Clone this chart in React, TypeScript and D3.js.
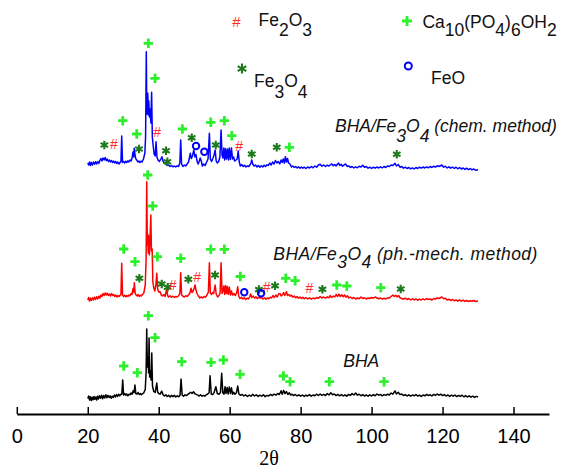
import React, { useEffect, useRef } from "react";
import * as d3 from "d3";

// 2theta ticks on the only visible axis
const xTicks = [0, 20, 40, 60, 80, 100, 120, 140];

// series, stacked with an intensity offset (arb. units)
const seriesNames = ["BHA", "BHA/Fe_{3}O_{4} (ph.-mech. method)", "BHA/Fe_{3}O_{4} (chem. method)"];
const seriesOffsets = [0, 990, 2350];
const seriesColors = ["#000000", "#ff0000", "#0000ff"];

// [2theta, intensity]
const bhaData = [
  [20.0, 155], [20.25, 180], [20.5, 140], [20.75, 172], [21.0, 135], [21.25, 168], [21.5, 142], [21.75, 175],
  [22.0, 148], [22.25, 170], [22.5, 140], [22.75, 178], [23.0, 150], [23.3, 182], [23.6, 158], [23.9, 188],
  [24.2, 152], [24.5, 185], [24.8, 160], [25.1, 192], [25.4, 162], [25.7, 186], [26.0, 165], [26.3, 182],
  [26.6, 158], [26.9, 178], [27.2, 165], [27.5, 190], [27.8, 170], [28.1, 195], [28.4, 175], [28.7, 198],
  [29.0, 182], [29.3, 195], [29.6, 200], [29.85, 340], [30.1, 190], [30.4, 205], [30.7, 188], [31.0, 200],
  [31.3, 182], [31.6, 198], [31.9, 192], [32.2, 210], [32.5, 198], [32.8, 232], [33.05, 212], [33.3, 290],
  [33.55, 205], [33.9, 198], [34.2, 215], [34.5, 195], [34.8, 205], [35.1, 192], [35.4, 202], [35.8, 212],
  [36.2, 245], [36.45, 420], [36.62, 850], [36.8, 470], [37.0, 560], [37.15, 410], [37.28, 760], [37.45, 370],
  [37.65, 430], [37.85, 340], [38.04, 610], [38.25, 280], [38.6, 225], [39.0, 215], [39.2, 255], [39.45, 310],
  [39.7, 220], [40.0, 205], [40.4, 198], [40.85, 228], [41.2, 195], [41.6, 180], [42.0, 192], [42.4, 175],
  [42.8, 188], [43.2, 170], [43.6, 186], [44.0, 174], [44.4, 188], [44.8, 170], [45.2, 182], [45.6, 172],
  [46.0, 186], [46.3, 350], [46.6, 190], [47.0, 178], [47.4, 192], [47.8, 184], [48.2, 196], [48.6, 205],
  [49.0, 218], [49.4, 206], [49.8, 222], [50.2, 202], [50.6, 196], [51.0, 188], [51.4, 180], [51.8, 192],
  [52.2, 178], [52.6, 186], [53.0, 178], [53.4, 192], [53.8, 200], [54.2, 212], [54.47, 383], [54.8, 200],
  [55.2, 194], [55.6, 214], [56.1, 273], [56.5, 205], [57.0, 198], [57.4, 215], [57.75, 407], [58.05, 212],
  [58.4, 198], [58.7, 273], [58.95, 205], [59.3, 265], [59.55, 200], [59.9, 270], [60.2, 205], [60.5, 262],
  [60.8, 198], [61.1, 218], [61.5, 198], [61.9, 212], [62.27, 280], [62.6, 200], [63.0, 188], [63.5, 196],
  [64.0, 180], [64.5, 192], [65.0, 175], [65.5, 188], [66.0, 178], [66.5, 196], [67.0, 180], [67.5, 192],
  [68.0, 176], [68.5, 188], [69.0, 178], [69.5, 192], [70.0, 174], [70.5, 186], [71.0, 180], [71.5, 196],
  [72.0, 184], [72.5, 200], [73.0, 188], [73.5, 205], [74.0, 195], [74.5, 232], [74.8, 198], [75.2, 236],
  [75.6, 204], [76.0, 225], [76.4, 195], [76.8, 212], [77.2, 190], [77.6, 198], [78.0, 184], [78.5, 195],
  [79.0, 180], [79.5, 192], [80.0, 178], [80.5, 190], [81.0, 176], [81.5, 188], [82.0, 180], [82.5, 194],
  [83.0, 178], [83.5, 190], [84.0, 182], [84.5, 198], [85.0, 185], [85.5, 200], [86.0, 186], [86.5, 196],
  [87.0, 184], [87.5, 205], [88.0, 190], [88.5, 212], [89.0, 192], [89.5, 200], [90.0, 184], [90.5, 196],
  [91.0, 182], [91.5, 194], [92.0, 180], [92.5, 192], [93.0, 178], [93.5, 196], [94.0, 186], [94.5, 204],
  [95.0, 190], [95.5, 210], [96.0, 188], [96.5, 198], [97.0, 182], [97.5, 194], [98.0, 180], [98.5, 190],
  [99.0, 178], [99.5, 192], [100.0, 180], [100.5, 194], [101.0, 182], [101.5, 200], [102.0, 188], [102.5, 196],
  [103.0, 182], [103.5, 194], [104.0, 186], [104.5, 198], [105.0, 190], [105.5, 210], [106.0, 198], [106.6, 232],
  [107.0, 200], [107.5, 218], [108.0, 194], [108.5, 200], [109.0, 184], [109.5, 194], [110.0, 180], [110.5, 192],
  [111.0, 178], [111.5, 190], [112.0, 182], [112.5, 194], [113.0, 180], [113.5, 188], [114.0, 176], [114.5, 190],
  [115.0, 182], [115.5, 196], [116.0, 184], [116.5, 192], [117.0, 180], [117.5, 196], [118.0, 186], [118.5, 200],
  [119.0, 188], [119.5, 198], [120.0, 184], [120.5, 194], [121.0, 180], [121.5, 190], [122.0, 176], [122.5, 188],
  [123.0, 178], [123.5, 190], [124.0, 174], [124.5, 186], [125.0, 176], [125.5, 188], [126.0, 172], [126.5, 184],
  [127.0, 170], [127.5, 182], [128.0, 168], [128.5, 178], [129.0, 166], [129.5, 176], [130.0, 170],
];

const phMechData = [
  [20.0, 150], [20.25, 175], [20.5, 140], [20.75, 168], [21.0, 145], [21.3, 172], [21.6, 150], [21.9, 178],
  [22.2, 155], [22.5, 182], [22.8, 160], [23.1, 188], [23.4, 168], [23.7, 200], [24.0, 185], [24.3, 215],
  [24.6, 195], [24.9, 220], [25.2, 200], [25.5, 218], [25.8, 195], [26.1, 210], [26.4, 190], [26.7, 215],
  [27.0, 195], [27.3, 205], [27.6, 185], [27.9, 200], [28.2, 180], [28.5, 195], [28.8, 185], [29.1, 198],
  [29.35, 205], [29.57, 517], [29.8, 200], [30.1, 185], [30.4, 198], [30.7, 182], [31.0, 195], [31.3, 185],
  [31.6, 200], [31.9, 192], [32.2, 215], [32.5, 205], [32.75, 265], [32.95, 230], [33.13, 323], [33.35, 220],
  [33.6, 200], [33.9, 190], [34.2, 205], [34.5, 185], [34.8, 198], [35.1, 190], [35.4, 205], [35.8, 220],
  [36.2, 300], [36.45, 560], [36.62, 1333], [36.78, 700], [36.92, 810], [37.05, 620], [37.2, 790], [37.38, 600],
  [37.55, 760], [37.78, 1000], [37.95, 640], [38.15, 660], [38.35, 330], [38.6, 270], [38.9, 240], [39.2, 300],
  [39.45, 417], [39.7, 260], [40.0, 230], [40.4, 233], [40.7, 200], [41.0, 190], [41.4, 205], [41.8, 185],
  [42.26, 267], [42.5, 195], [42.8, 180], [43.2, 192], [43.6, 178], [44.0, 188], [44.4, 175], [44.8, 186],
  [45.2, 180], [45.6, 192], [45.95, 215], [46.2, 423], [46.45, 200], [46.8, 188], [47.2, 180], [47.6, 192],
  [48.0, 186], [48.4, 200], [48.8, 220], [49.1, 267], [49.4, 225], [49.7, 240], [50.0, 270], [50.24, 300],
  [50.5, 250], [50.8, 215], [51.2, 190], [51.6, 170], [52.0, 182], [52.4, 170], [52.8, 186], [53.2, 178],
  [53.6, 200], [54.0, 230], [54.28, 523], [54.55, 220], [54.9, 205], [55.2, 225], [55.5, 215], [55.9, 300],
  [56.2, 210], [56.6, 180], [57.0, 195], [57.3, 220], [57.57, 523], [57.85, 215], [58.1, 240], [58.35, 290],
  [58.6, 205], [58.85, 295], [59.1, 215], [59.35, 285], [59.6, 205], [59.9, 280], [60.2, 200], [60.5, 240],
  [60.8, 200], [61.2, 215], [61.6, 195], [62.0, 225], [62.27, 283], [62.55, 190], [62.9, 165], [63.3, 178],
  [63.7, 160], [64.1, 172], [64.5, 155], [64.9, 168], [65.3, 160], [65.6, 180], [65.9, 210], [66.2, 175],
  [66.6, 190], [67.0, 168], [67.4, 182], [67.8, 165], [68.2, 178], [68.6, 168], [69.0, 175], [69.4, 160],
  [69.8, 172], [70.2, 158], [70.6, 170], [71.0, 162], [71.4, 178], [71.8, 170], [72.2, 195], [72.6, 175],
  [73.0, 200], [73.4, 180], [73.8, 210], [74.2, 215], [74.5, 190], [74.9, 205], [75.2, 225], [75.5, 195],
  [75.8, 215], [76.0, 233], [76.3, 195], [76.7, 205], [77.0, 188], [77.4, 198], [77.8, 178], [78.2, 190],
  [78.6, 172], [79.0, 185], [79.4, 168], [79.8, 180], [80.2, 165], [80.6, 178], [81.0, 162], [81.5, 175],
  [82.0, 160], [82.5, 172], [83.0, 158], [83.5, 170], [84.0, 162], [84.5, 175], [85.0, 168], [85.5, 185],
  [86.0, 170], [86.5, 180], [87.0, 168], [87.5, 182], [88.0, 172], [88.3, 195], [88.7, 175], [89.2, 190],
  [89.6, 180], [90.0, 205], [90.4, 185], [90.8, 208], [91.2, 185], [91.6, 202], [92.0, 182], [92.4, 200],
  [92.8, 178], [93.2, 192], [93.6, 170], [94.0, 180], [94.5, 165], [95.0, 175], [95.5, 160], [96.0, 170],
  [96.5, 162], [97.0, 180], [97.5, 165], [98.0, 172], [98.5, 160], [99.0, 170], [99.5, 165], [100.0, 175],
  [100.5, 168], [101.0, 180], [101.5, 170], [102.0, 162], [102.5, 170], [103.0, 158], [103.5, 168], [104.0, 160],
  [104.5, 172], [105.0, 170], [105.5, 185], [106.0, 200], [106.4, 185], [106.8, 198], [107.2, 180], [107.6, 195],
  [108.0, 172], [108.5, 165], [109.0, 158], [109.5, 168], [110.0, 155], [110.5, 165], [111.0, 150], [111.5, 162],
  [112.0, 152], [112.5, 160], [113.0, 148], [113.5, 158], [114.0, 150], [114.5, 162], [115.0, 152], [115.5, 165],
  [116.0, 155], [116.5, 160], [117.0, 150], [117.5, 165], [118.0, 160], [118.5, 170], [119.0, 165], [119.8, 180],
  [120.3, 162], [120.8, 168], [121.3, 150], [121.8, 158], [122.3, 145], [122.8, 155], [123.3, 142], [123.8, 150],
  [124.3, 140], [124.8, 150], [125.3, 138], [125.8, 148], [126.3, 136], [126.8, 145], [127.3, 135], [127.8, 142],
  [128.3, 138], [128.8, 145], [129.3, 135], [130.0, 140],
];

const chemData = [
  [20.0, 160], [20.25, 140], [20.5, 170], [20.75, 135], [21.0, 165], [21.3, 140], [21.6, 170], [21.9, 148],
  [22.2, 172], [22.5, 150], [22.8, 175], [23.1, 155], [23.4, 185], [23.7, 205], [24.0, 180], [24.3, 210],
  [24.6, 190], [24.9, 215], [25.2, 185], [25.5, 200], [25.8, 175], [26.1, 190], [26.4, 170], [26.7, 185],
  [27.0, 165], [27.3, 180], [27.6, 160], [27.9, 175], [28.2, 155], [28.5, 170], [28.8, 150], [29.1, 165],
  [29.35, 175], [29.57, 430], [29.8, 165], [30.1, 175], [30.4, 160], [30.7, 178], [31.0, 165], [31.3, 182],
  [31.6, 170], [31.9, 190], [32.2, 180], [32.5, 210], [32.75, 270], [32.95, 220], [33.1, 307], [33.3, 250],
  [33.5, 205], [33.8, 190], [34.1, 170], [34.4, 180], [34.7, 165], [35.0, 178], [35.3, 170], [35.7, 200],
  [36.1, 260], [36.3, 420], [36.5, 1273], [36.65, 650], [36.8, 840], [36.92, 857], [37.05, 640], [37.2, 780],
  [37.4, 620], [37.6, 700], [37.8, 560], [38.0, 867], [38.2, 420], [38.45, 330], [38.7, 250], [39.0, 230],
  [39.25, 373], [39.5, 220], [39.8, 190], [40.2, 175], [40.6, 200], [40.9, 223], [41.2, 180], [41.6, 160],
  [42.0, 150], [42.4, 135], [42.8, 140], [43.2, 125], [43.6, 135], [44.0, 122], [44.4, 130], [44.8, 120],
  [45.2, 132], [45.6, 125], [45.95, 160], [46.2, 390], [46.45, 150], [46.8, 125], [47.2, 140], [47.6, 130],
  [48.0, 150], [48.4, 170], [48.7, 220], [48.9, 257], [49.2, 205], [49.5, 230], [49.9, 290], [50.2, 220],
  [50.5, 245], [50.8, 180], [51.1, 150], [51.4, 175], [51.7, 210], [52.0, 180], [52.3, 130], [52.7, 150],
  [53.1, 135], [53.5, 170], [53.9, 200], [54.28, 457], [54.55, 200], [54.9, 175], [55.3, 210], [55.6, 240],
  [55.9, 290], [56.2, 180], [56.5, 160], [56.9, 175], [57.25, 220], [57.57, 490], [57.85, 240], [58.1, 210],
  [58.35, 310], [58.6, 190], [58.85, 305], [59.1, 200], [59.4, 300], [59.65, 190], [59.9, 310], [60.2, 195],
  [60.5, 310], [60.8, 200], [61.1, 220], [61.4, 180], [61.8, 190], [62.1, 200], [62.4, 280], [62.7, 170],
  [63.0, 130], [63.4, 145], [63.8, 125], [64.2, 138], [64.6, 120], [65.0, 132], [65.4, 125], [65.7, 140],
  [66.0, 160], [66.2, 190], [66.5, 150], [66.9, 130], [67.3, 140], [67.7, 120], [68.1, 135], [68.5, 118],
  [68.9, 132], [69.3, 120], [69.7, 138], [70.1, 125], [70.5, 142], [70.9, 135], [71.3, 160], [71.7, 140],
  [72.1, 170], [72.5, 150], [72.9, 185], [73.3, 160], [73.7, 175], [74.1, 150], [74.5, 190], [74.8, 165],
  [75.1, 200], [75.4, 160], [75.7, 223], [76.0, 170], [76.3, 205], [76.6, 160], [77.0, 150], [77.4, 120],
  [77.8, 130], [78.2, 115], [78.6, 125], [79.0, 110], [79.4, 122], [79.8, 108], [80.2, 120], [80.6, 108],
  [81.0, 118], [81.5, 105], [82.0, 120], [82.5, 110], [83.0, 125], [83.5, 112], [84.0, 130], [84.5, 118],
  [85.0, 140], [85.5, 148], [86.0, 128], [86.5, 140], [87.0, 125], [87.5, 138], [88.0, 130], [88.5, 145],
  [88.8, 150], [89.2, 132], [89.6, 145], [90.0, 130], [90.4, 150], [90.7, 160], [91.0, 135], [91.4, 148],
  [91.8, 128], [92.2, 140], [92.7, 150], [93.1, 125], [93.5, 132], [94.0, 115], [94.5, 125], [95.0, 110],
  [95.5, 122], [96.0, 112], [96.5, 128], [97.0, 120], [97.5, 138], [98.0, 118], [98.5, 125], [99.0, 108],
  [99.5, 118], [100.0, 105], [100.5, 118], [101.0, 108], [101.5, 120], [102.0, 110], [102.5, 122], [103.0, 112],
  [103.5, 125], [104.0, 115], [104.5, 130], [105.0, 125], [105.5, 140], [106.0, 135], [106.6, 157], [107.0, 130],
  [107.5, 145], [108.0, 118], [108.5, 125], [109.0, 108], [109.5, 118], [110.0, 105], [110.5, 115], [111.0, 102],
  [111.5, 112], [112.0, 100], [112.5, 115], [113.0, 105], [113.5, 118], [114.0, 108], [114.5, 120], [115.0, 110],
  [115.5, 122], [116.0, 112], [116.5, 125], [117.0, 115], [117.5, 128], [118.0, 118], [118.5, 132], [119.0, 125],
  [119.8, 140], [120.3, 118], [120.8, 128], [121.3, 110], [121.8, 122], [122.3, 108], [122.8, 120], [123.3, 105],
  [123.8, 118], [124.3, 102], [124.8, 115], [125.3, 100], [125.8, 110], [126.3, 96], [126.8, 108], [127.3, 94],
  [127.8, 104], [128.3, 92], [128.8, 100], [129.3, 88], [130.0, 92],
];

const seriesData = [bhaData, phMechData, chemData];

// phase marks, [2theta, plotted intensity]
const hapMarks = [
  [37.07, 3707], [38.96, 3357], [29.86, 2933], [33.8, 2800], [46.66, 2850], [54.67, 2917], [58.5, 2933],
  [60.59, 2783], [76.83, 2667],
  [36.9, 2390], [38.31, 2080], [30.14, 1650], [33.32, 1523], [39.61, 1573], [46.21, 1557], [54.67, 1647],
  [58.5, 1647], [63.01, 1375], [75.81, 1357], [78.43, 1333], [90.19, 1290], [93.01, 1280], [102.6, 1263],
  [37.07, 983], [38.96, 763], [30.14, 480], [33.97, 413], [46.49, 523], [54.75, 517], [58.22, 540],
  [62.93, 397], [75.13, 380], [77.02, 323], [88.1, 323], [103.5, 323],
];
const fe3o4Marks = [
  [24.67, 2690], [34.45, 2650], [42.06, 2633], [42.43, 2523], [49.31, 2763], [56.08, 2690], [66.22, 2600],
  [73.27, 2667], [107.1, 2597],
  [34.54, 1357], [40.85, 1300], [42.54, 1267], [48.35, 1347], [55.88, 1390], [68.23, 1244], [72.79, 1283],
  [86.13, 1247], [108.2, 1250],
];
const fe2o3Marks = [
  [27.4, 2697], [39.53, 2817], [62.64, 2685],
  [43.95, 1290], [50.8, 1373], [70.45, 1267], [82.46, 1257],
];
const feoMarks = [
  [50.52, 2680], [52.86, 2623],
  [64.11, 1217], [68.85, 1207],
];

const legendLabels = ["Fe_{2}O_{3}", "Ca_{10}(PO_{4})_{6}OH_{2}", "Fe_{3}O_{4}", "FeO"];

const SANS = "'Liberation Sans', Arial, sans-serif";
const GREEN = "#2cf02c";
const DKGREEN = "#1c7a1c";
const HASHRED = "#ff2a2a";

function chemSpans(label, subDy) {
  const parts = label.split(/(_\{[^}]*\})/).filter((s) => s.length);
  let down = false;
  return parts.map((p, i) => {
    if (p.startsWith("_{")) {
      down = true;
      return <tspan key={i} dy={subDy}>{p.slice(2, -1)}</tspan>;
    }
    const dy = down ? -subDy : 0;
    down = false;
    return <tspan key={i} dy={dy}>{p}</tspan>;
  });
}

function Plus({ cx, cy, s = 4.7 }) {
  return (
    <path d={`M${cx - s},${cy}H${cx + s}M${cx},${cy - s}V${cy + s}`}
      stroke={GREEN} strokeWidth={2.8} fill="none" />
  );
}

function Star({ cx, cy, s = 4.3 }) {
  const a = s * Math.cos(Math.PI / 6);
  const b = s * Math.sin(Math.PI / 6);
  return (
    <path d={`M${cx},${cy - s}V${cy + s}M${cx - a},${cy - b}L${cx + a},${cy + b}M${cx - a},${cy + b}L${cx + a},${cy - b}`}
      stroke={DKGREEN} strokeWidth={2.1} fill="none" />
  );
}

function Hash({ cx, cy, size = 14 }) {
  return (
    <text x={cx} y={cy} fill={HASHRED} fontSize={size} fontFamily={SANS}
      textAnchor="middle" dominantBaseline="central">#</text>
  );
}

function Ring({ cx, cy, r = 3.2 }) {
  return <circle cx={cx} cy={cy} r={r} fill="none" stroke="#0000ff" strokeWidth={2} />;
}

export default function App() {
  const width = 565;
  const height = 470;
  const x = d3.scaleLinear().domain([0, 150]).range([16.8, 549]);
  const y = d3.scaleLinear().domain([0, 4000]).range([414, 14]);
  const axisRef = useRef(null);

  useEffect(() => {
    const g = d3.select(axisRef.current);
    g.call(d3.axisBottom(x).tickValues(xTicks).tickSizeInner(-7).tickSizeOuter(0).tickPadding(15));
    g.attr("font-size", 20).attr("font-family", SANS);
    g.select(".domain").attr("stroke-width", 2);
    g.selectAll(".tick line").attr("stroke-width", 1.5);
  }, []);

  const lines = seriesData.map((data, i) =>
    d3.line()
      .x((d) => x(d[0]))
      .y((d) => y(d[1] + seriesOffsets[i]))(data)
  );

  return (
    <svg width={width} height={height} style={{ position: "absolute", left: 0, top: 0, background: "#fff" }}>
      {lines.map((d, i) => (
        <path key={i} d={d} fill="none" stroke={seriesColors[i]} strokeWidth={1.5} strokeLinejoin="round" />
      ))}

      {hapMarks.map((m, i) => <Plus key={"p" + i} cx={x(m[0])} cy={y(m[1])} />)}
      {fe3o4Marks.map((m, i) => <Star key={"s" + i} cx={x(m[0])} cy={y(m[1])} />)}
      {fe2o3Marks.map((m, i) => <Hash key={"h" + i} cx={x(m[0])} cy={y(m[1])} />)}
      {feoMarks.map((m, i) => <Ring key={"o" + i} cx={x(m[0])} cy={y(m[1])} />)}

      {/* series labels */}
      <g fontFamily={SANS} fontStyle="italic" fontSize={17.5} fill="#111">
        <text x={335} y={131.7}>{chemSpans(seriesNames[2], 10)}</text>
        <text x={273.3} y={260} letterSpacing={0.45}>{chemSpans(seriesNames[1], 7.5)}</text>
        <text x={343.3} y={366.7}>{seriesNames[0]}</text>
      </g>

      {/* legend */}
      <g fontFamily={SANS} fontSize={17.5} fill="#111">
        <Hash cx={236.5} cy={21} size={15} />
        <text x={258.5} y={26}>{chemSpans(legendLabels[0], 10)}</text>
        <Plus cx={407} cy={21} s={5} />
        <text x={422.4} y={28}>{chemSpans(legendLabels[1], 8)}</text>
        <Star cx={242} cy={68.6} s={5} />
        <text x={254} y={86.6}>{chemSpans(legendLabels[2], 11)}</text>
        <Ring cx={408.3} cy={66} r={3.5} />
        <text x={431} y={84}>{legendLabels[3]}</text>
      </g>

      <g ref={axisRef} transform="translate(0,414)" />
      <text x={269} y={464.5} textAnchor="middle" fontFamily="'Liberation Serif', 'Times New Roman', serif" fontSize={20}>
        2θ
      </text>
    </svg>
  );
}
